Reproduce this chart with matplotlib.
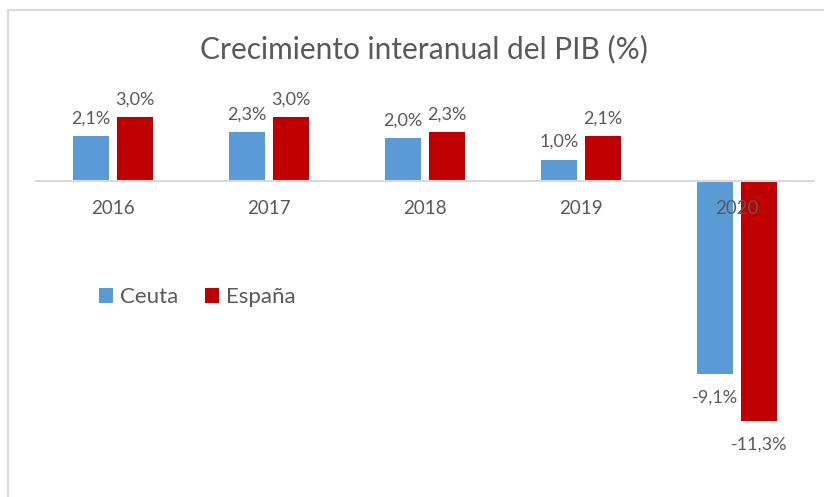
import numpy as np
import matplotlib.pyplot as plt
from matplotlib.patches import Rectangle

# Data
years = ["2016", "2017", "2018", "2019", "2020"]
ceuta = [2.1, 2.3, 2.0, 1.0, -9.1]
espana = [3.0, 3.0, 2.3, 2.1, -11.3]
ceuta_labels = ["2,1%", "2,3%", "2,0%", "1,0%", "-9,1%"]
espana_labels = ["3,0%", "3,0%", "2,3%", "2,1%", "-11,3%"]

plt.rcParams["font.family"] = ["Lato", "DejaVu Sans"]
txt = "#595959"

W, H = 824, 497
fig = plt.figure(figsize=(W / 100, H / 100), dpi=100)

# chart frame (cut off at the right and bottom like the screenshot)
fig.patches.append(Rectangle((8 / W, -0.1), 1.2, 1.1 - 10 / H, transform=fig.transFigure,
                             fill=False, edgecolor="#d9d9d9", linewidth=1.5))

ax = fig.add_axes([35 / W, 1 - 436 / H, 780 / W, 340 / H])
x = np.arange(len(years))
w = 0.225
b1 = ax.bar(x - 0.141, ceuta, w, color="#5B9BD5", label="Ceuta", zorder=2)
b2 = ax.bar(x + 0.141, espana, w, color="#C00000", label="España", zorder=2)

ax.set_xlim(-0.5, 4.5)
ax.set_ylim(-12, 4)
ax.axhline(0, color="#d9d9d9", linewidth=1.5, zorder=3)

for bars, labels in [(b1, ceuta_labels), (b2, espana_labels)]:
    for bar, lab in zip(bars, labels):
        h = bar.get_height()
        if h >= 0:
            ax.annotate(lab, (bar.get_x() + bar.get_width() / 2, h), xytext=(0, 7),
                        textcoords="offset points", ha="center", va="bottom",
                        fontsize=13, color=txt)
        else:
            ax.annotate(lab, (bar.get_x() + bar.get_width() / 2, h), xytext=(0, -11),
                        textcoords="offset points", ha="center", va="top",
                        fontsize=13, color=txt)

for i, yr in enumerate(years):
    ax.annotate(yr, (i, 0), xytext=(0, -14), textcoords="offset points",
                ha="center", va="top", fontsize=13.5, color=txt, zorder=4)

ax.set_xticks([])
ax.set_yticks([])
for s in ax.spines.values():
    s.set_visible(False)
ax.patch.set_visible(False)

fig.text(424 / W, 1 - 49 / H, "Crecimiento interanual del PIB (%)", ha="center", va="center",
         fontsize=21.5, color=txt)

fig.legend(handles=[b1, b2], loc="center left", bbox_to_anchor=(99 / W, 1 - 297 / H),
           ncol=2, frameon=False, fontsize=16, handlelength=0.65, handleheight=0.65,
           handletextpad=0.3, columnspacing=1.2, borderpad=0, borderaxespad=0,
           labelcolor=txt)

fig.savefig("out.png", dpi=100)
